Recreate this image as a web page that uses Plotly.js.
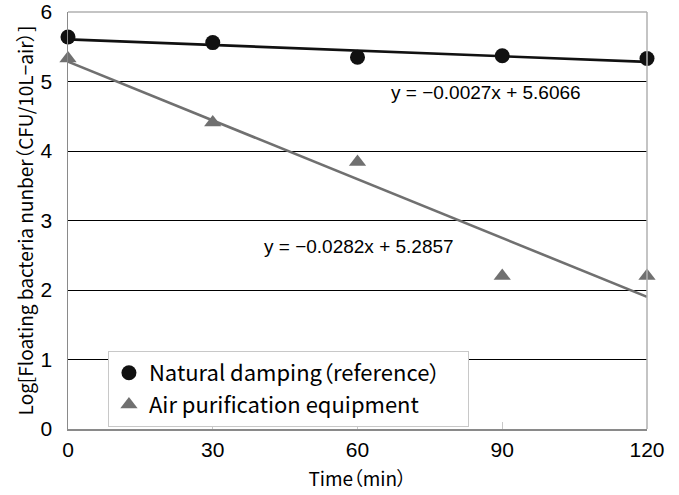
<!DOCTYPE html>
<html>
<head>
<meta charset="utf-8">
<script src="https://cdn.plot.ly/plotly-3.0.1.min.js"></script>
<style>
html,body{margin:0;padding:0;background:#fff;}
#chart{width:679px;height:495px;}
#chart text{font-feature-settings:"palt" 1;}
</style>
</head>
<body>
<div id="chart"></div>
<script>
const timeMin = [0, 30, 60, 90, 120];
const naturalDamping = [5.64, 5.56, 5.35, 5.37, 5.33];
const airPurification = [5.33, 4.41, 3.84, 2.2, 2.2];
const naturalSlope = -0.0027, naturalIntercept = 5.6066;
const airSlope = -0.0282, airIntercept = 5.2857;
const seriesNames = ['Natural damping（reference）', 'Air purification equipment'];
const eqNatural = 'y = −0.0027x + 5.6066';
const eqAir = 'y = −0.0282x + 5.2857';
const xTicks = [0, 30, 60, 90, 120];
const yTicks = [0, 1, 2, 3, 4, 5, 6];

const trendX = [timeMin[0], timeMin[timeMin.length - 1]];
const natTrend = trendX.map(x => naturalSlope * x + naturalIntercept);
const airTrend = trendX.map(x => airSlope * x + airIntercept);

const numFont = 'Liberation Sans, Arial, sans-serif';
const jpFont = 'Noto Sans CJK JP, sans-serif';

const traces = [
  {x: trendX, y: natTrend, mode: 'lines', line: {color: '#111', width: 2.6}, showlegend: false, hoverinfo: 'skip'},
  {x: trendX, y: airTrend, mode: 'lines', line: {color: '#707070', width: 2.6}, showlegend: false, hoverinfo: 'skip'},
  {x: timeMin, y: naturalDamping, name: seriesNames[0], mode: 'markers', marker: {symbol: 'circle', size: 15, color: '#111'}, cliponaxis: false},
  {x: timeMin, y: airPurification, name: seriesNames[1], mode: 'markers', marker: {symbol: 'triangle-up', size: 15, color: '#707070'}, cliponaxis: false}
];

const layout = {
  width: 679, height: 495,
  margin: {l: 68, r: 32, t: 12, b: 66},
  paper_bgcolor: '#fff', plot_bgcolor: '#fff',
  showlegend: true,
  legend: {x: 0.069, y: 0.187, xanchor: 'left', yanchor: 'top', bgcolor: '#fff', bordercolor: '#c8c8c8', borderwidth: 1,
           font: {family: jpFont, size: 22, color: '#000'}, itemwidth: 30, tracegroupgap: 0},
  xaxis: {range: [0, 120], tickvals: xTicks, ticktext: xTicks.map(String), showgrid: false, zeroline: false,
          showline: true, linecolor: '#8a8a8a', linewidth: 1.5, mirror: false,
          ticks: 'inside', ticklen: 7, tickcolor: '#c8c8c8', tickwidth: 1,
          tickfont: {family: numFont, size: 21, color: '#000'}, ticklabelstandoff: 1,
          title: {text: 'Time（min）', font: {family: jpFont, size: 19, color: '#000'}, standoff: 13}},
  yaxis: {range: [0, 6], tickvals: yTicks, ticktext: yTicks.map(String), showgrid: true, gridcolor: '#000', gridwidth: 1,
          zeroline: false, showline: true, linecolor: '#8a8a8a', linewidth: 1.5, mirror: false, ticks: '',
          tickfont: {family: numFont, size: 21, color: '#000'}, ticklabelstandoff: 10,
          title: {text: 'Log[Floating bacteria nunber（CFU/10L−air）]', font: {family: jpFont, size: 19, color: '#000'}, standoff: 2}},
  shapes: [
    {type: 'line', xref: 'paper', yref: 'paper', x0: 0, x1: 1, y0: 1, y1: 1, line: {color: '#b0b0b0', width: 1.5}},
    {type: 'line', xref: 'paper', yref: 'paper', x0: 1, x1: 1, y0: 0, y1: 1, line: {color: '#b0b0b0', width: 1.5}}
  ],
  annotations: [
    {x: 86.7, y: 4.84, xref: 'x', yref: 'y', text: eqNatural, showarrow: false, font: {family: numFont, size: 19, color: '#000'}},
    {x: 60.4, y: 2.62, xref: 'x', yref: 'y', text: eqAir, showarrow: false, font: {family: numFont, size: 19, color: '#000'}}
  ]
};

Plotly.newPlot('chart', traces, layout, {staticPlot: true, displayModeBar: false});
</script>
</body>
</html>
